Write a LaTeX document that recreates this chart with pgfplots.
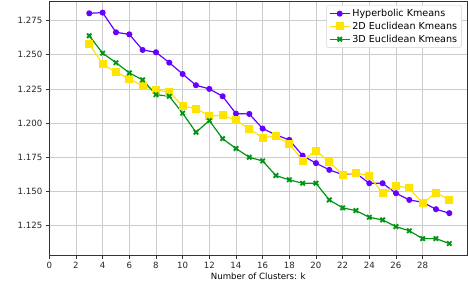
\documentclass[border=0pt]{standalone}
\usepackage{pgfplots}
\pgfplotsset{compat=1.18}
\usepackage{fontspec}
\setmainfont{DejaVu Sans}
\definecolor{hyp}{RGB}{102,0,255}
\definecolor{euc2}{RGB}{255,228,0}
\definecolor{euc3}{RGB}{0,150,20}
\begin{document}
\begin{tikzpicture}[x=1pt,y=1pt]
\begin{axis}[
  name=ax,
  at={(0,0)}, anchor=south west,
  scale only axis,
  width=418pt, height=254.3pt,
  xmin=0, xmax=31.35,
  ymin=1.1034, ymax=1.2894,
  xtick={0,2,...,28},
  ytick={1.125,1.150,1.175,1.200,1.225,1.250,1.275},
  yticklabel style={/pgf/number format/.cd,fixed,fixed zerofill,precision=3},
  /pgf/number format/assume math mode=true,
  tick label style={font=\fontsize{8.6}{10}\selectfont, text=black!85},
  label style={font=\fontsize{8.6}{10}\selectfont},
  xlabel={Number of Clusters: k},
  xlabel style={yshift=3pt},
  grid=major,
  grid style={gray!40, line width=0.8pt},
  axis line style={black!80, line width=0.8pt},
  tick align=outside,
  tick pos=left,
  major tick length=3.5pt,
  every tick/.style={black!80, line width=0.8pt},
  legend style={at={(0.987,0.984)}, anchor=north east, draw=gray!35, rounded corners=2pt,
    font=\fontsize{9.6}{11}\selectfont, inner xsep=2.5pt, inner ysep=2pt, row sep=0pt,
    legend cell align=left},
  legend image code/.code={
    \draw[#1] (0pt,0pt) -- (20pt,0pt);
    \draw[#1, only marks] plot coordinates {(10pt,0pt)};
  },
]
\addplot[hyp, line width=1.2pt, mark=*, mark size=2.4pt] coordinates {
(3,1.2804) (4,1.2809) (5,1.2665) (6,1.2650) (7,1.2536) (8,1.2519) (9,1.2443)
(10,1.2360) (11,1.2278) (12,1.2251) (13,1.2197) (14,1.2070) (15,1.2068)
(16,1.1961) (17,1.1915) (18,1.1878) (19,1.1763) (20,1.1708) (21,1.1659)
(22,1.1624) (23,1.1634) (24,1.1561) (25,1.1561) (26,1.1488) (27,1.1439)
(28,1.1422) (29,1.1371) (30,1.1342)};
\addlegendentry{Hyperbolic Kmeans}
\addplot[euc2, line width=1.2pt, mark=square*, mark size=3.4pt] coordinates {
(3,1.2580) (4,1.2431) (5,1.2373) (6,1.2326) (7,1.2273) (8,1.2243) (9,1.2229)
(10,1.2126) (11,1.2107) (12,1.2053) (13,1.2058) (14,1.2022) (15,1.1958)
(16,1.1895) (17,1.1905) (18,1.1849) (19,1.1727) (20,1.1800) (21,1.1717)
(22,1.1624) (23,1.1637) (24,1.1615) (25,1.1488) (26,1.1542) (27,1.1525)
(28,1.1415) (29,1.1493) (30,1.1439)};
\addlegendentry{2D Euclidean Kmeans}
\addplot[euc3, line width=1.2pt, mark=x, mark size=3.1pt, mark options={line width=1.9pt}] coordinates {
(3,1.2640) (4,1.2512) (5,1.2443) (6,1.2368) (7,1.2317) (8,1.2209) (9,1.2197)
(10,1.2073) (11,1.1934) (12,1.2019) (13,1.1887) (14,1.1815) (15,1.1751)
(16,1.1724) (17,1.1617) (18,1.1586) (19,1.1561) (20,1.1561) (21,1.1439)
(22,1.1381) (23,1.1361) (24,1.1312) (25,1.1293) (26,1.1244) (27,1.1213)
(28,1.1156) (29,1.1156) (30,1.1120)};
\addlegendentry{3D Euclidean Kmeans}
\end{axis}
\pgfresetboundingbox
\path[use as bounding box] ([xshift=-49.3pt,yshift=-36.7pt]ax.south west) rectangle ([xshift=0.7pt,yshift=1pt]ax.north east);
\end{tikzpicture}
\end{document}
